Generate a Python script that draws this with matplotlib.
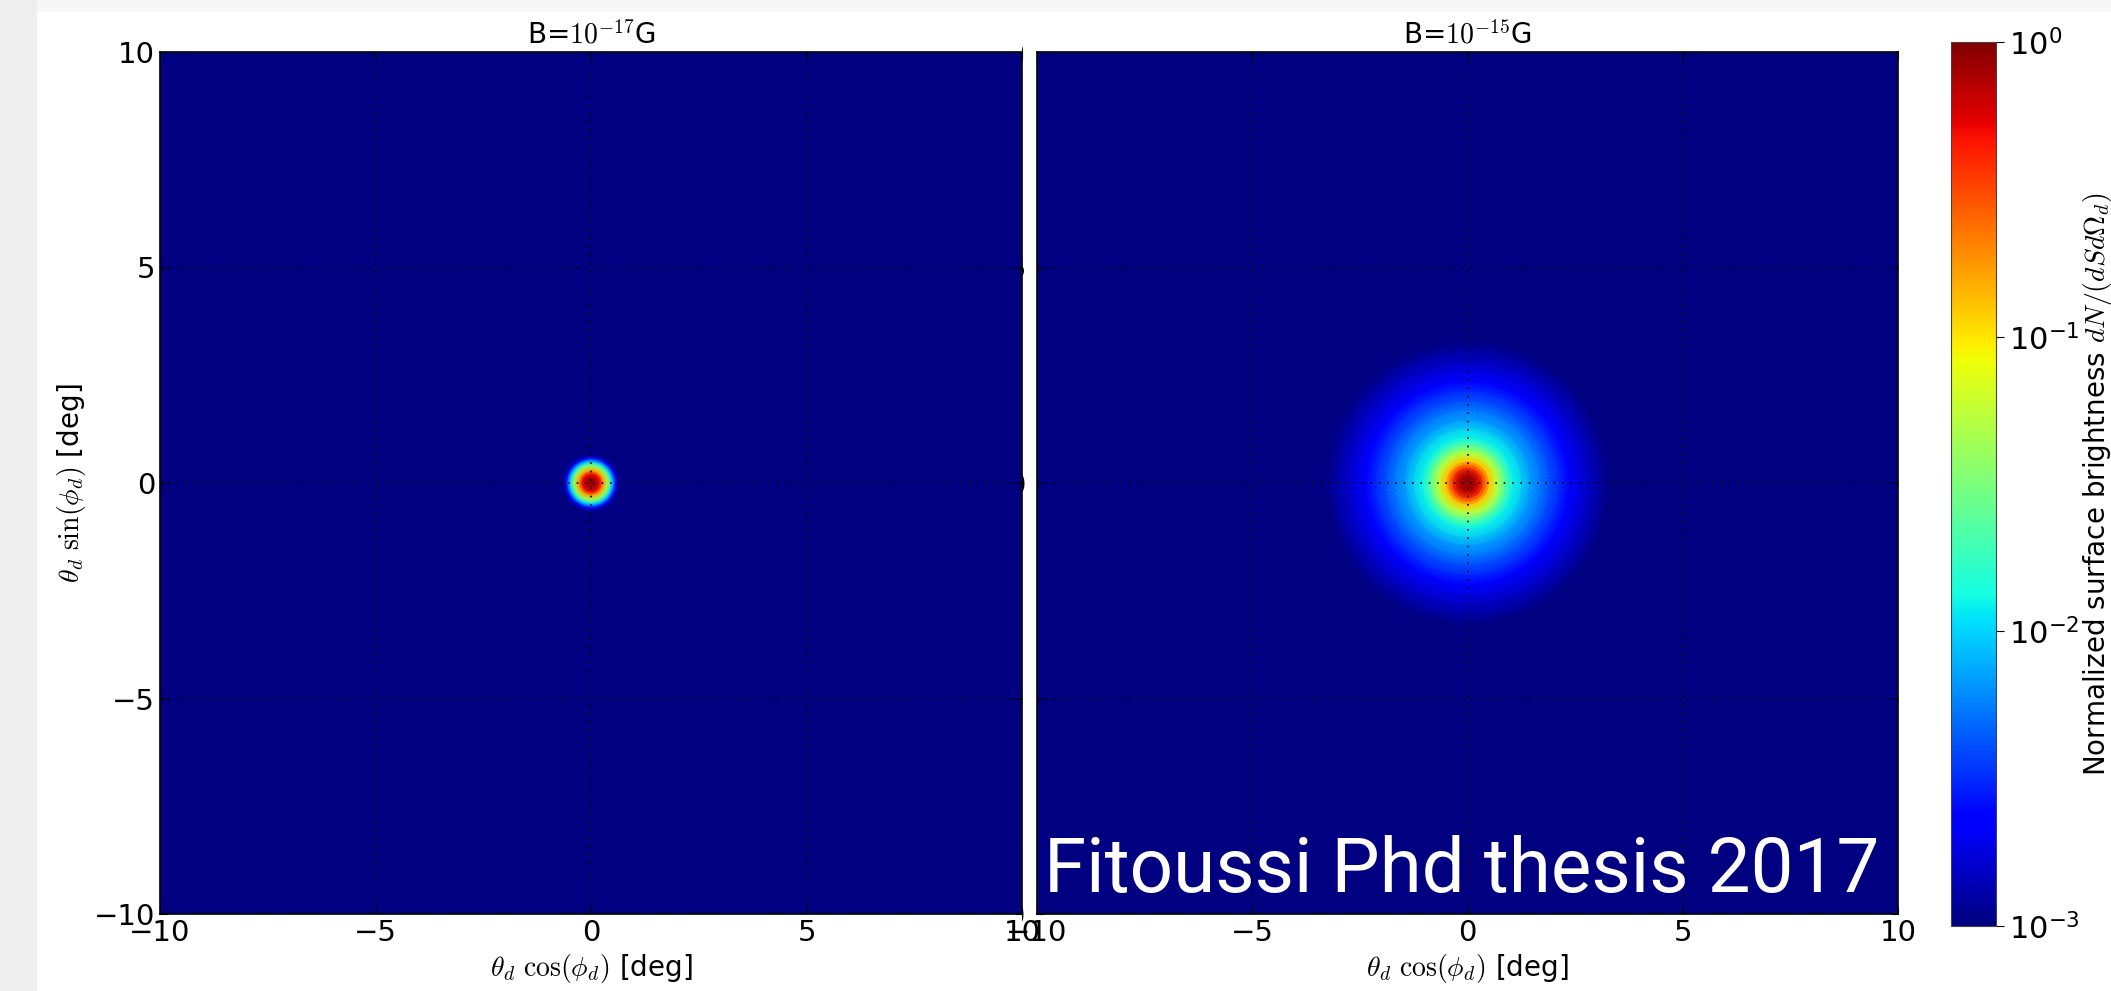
import numpy as np
import matplotlib
matplotlib.use('Agg')
import matplotlib.pyplot as plt
from matplotlib.colors import LogNorm
from matplotlib.patches import Rectangle

# perfiles radiales (radio en grados, brillo normalizado)
radio_17 = [0.0, 0.1, 0.2, 0.28, 0.38, 0.48, 0.56, 0.62, 0.67]
brillo_17 = [1.0, 0.76, 0.5, 0.166, 0.045, 0.0105, 0.0028, 0.0014, 0.001]

radio_15 = [0.0, 0.2, 0.35, 0.5, 0.67, 0.87, 1.05, 1.45, 1.9, 2.35, 2.8, 3.3]
brillo_15 = [1.0, 0.7, 0.35, 0.125, 0.055, 0.022, 0.0126, 0.0069, 0.004, 0.0023, 0.0015, 0.0009]

titulos = [r'B=$10^{-17}$G', r'B=$10^{-15}$G']
ticks = [-10, -5, 0, 5, 10]
cbar_ticks = [1e-3, 1e-2, 1e-1, 1e0]

plt.rcParams['mathtext.fontset'] = 'cm'
plt.rcParams['font.family'] = 'DejaVu Sans'

W, H = 2111, 991
fig = plt.figure(figsize=(W / 100, H / 100), dpi=100, facecolor='white')

# marco gris de la diapositiva
fig.patches.append(Rectangle((0, 1 - 12 / H), 1, 12 / H, transform=fig.transFigure,
                             facecolor='#f7f7f7', edgecolor='none', zorder=-10))
fig.patches.append(Rectangle((0, 0), 37 / W, 1, transform=fig.transFigure,
                             facecolor='#eeeeee', edgecolor='none', zorder=-10))
# franja blanca que tapa las etiquetas y del panel derecho
fig.patches.append(Rectangle((930 / W, (H - 925) / H), 92 / W, 895 / H,
                             transform=fig.transFigure, facecolor='white',
                             edgecolor='none', zorder=1.5))

ax1 = fig.add_axes([160 / W, (H - 914) / H, 862 / W, 862 / H])
ax2 = fig.add_axes([1037 / W, (H - 914) / H, 861 / W, 862 / H])
cax = fig.add_axes([1951 / W, (H - 926) / H, 45 / W, 884 / H])

ax1.set_zorder(2)
ax2.set_zorder(1)

phi = np.linspace(0, 2 * np.pi, 361)
norma = LogNorm(vmin=1e-3, vmax=1)


def dibujar_mapa(ax, radio, brillo, titulo):
    R, P = np.meshgrid(radio, phi)
    C = np.tile(brillo, (len(phi), 1))
    ax.set_facecolor(plt.cm.jet(0))
    m = ax.pcolormesh(R * np.cos(P), R * np.sin(P), C, shading='gouraud',
                      cmap='jet', norm=norma)
    ax.set_xlim(-10, 10)
    ax.set_ylim(-10, 10)
    ax.set_xticks(ticks)
    ax.set_yticks(ticks)
    ax.grid(True, color='k', linestyle=(0, (1, 4)), linewidth=1.2)
    ax.set_axisbelow(False)
    ax.tick_params(direction='in', top=True, right=True, labelsize=21, length=5)
    ax.set_title(titulo, fontsize=20)
    ax.set_xlabel(r'$\theta_d\ \cos(\phi_d)$ [deg]', fontsize=20)
    for s in ax.spines.values():
        s.set_linewidth(1.2)
    return m


dibujar_mapa(ax1, radio_17, brillo_17, titulos[0])
m = dibujar_mapa(ax2, radio_15, brillo_15, titulos[1])
ax1.set_ylabel(r'$\theta_d\ \sin(\phi_d)$ [deg]', fontsize=20)
ax2.tick_params(axis='y', pad=8)

# marca de agua
ax2.text(0.978, 0.025, 'Fitoussi Phd thesis 2017', transform=ax2.transAxes,
         ha='right', va='baseline', color='white', fontsize=55,
         family='Roboto', fontweight='normal')

# barra de color
cb = fig.colorbar(m, cax=cax)
cb.set_ticks(cbar_ticks)
cb.ax.minorticks_off()
cb.ax.tick_params(labelsize=22, length=6)
cb.outline.set_edgecolor('#444444')
cb.set_label(r'Normalized surface brightness $dN/(dSd\Omega_d)$', fontsize=20,
             labelpad=1)

fig.savefig('out.png', dpi=100, facecolor=fig.get_facecolor())
